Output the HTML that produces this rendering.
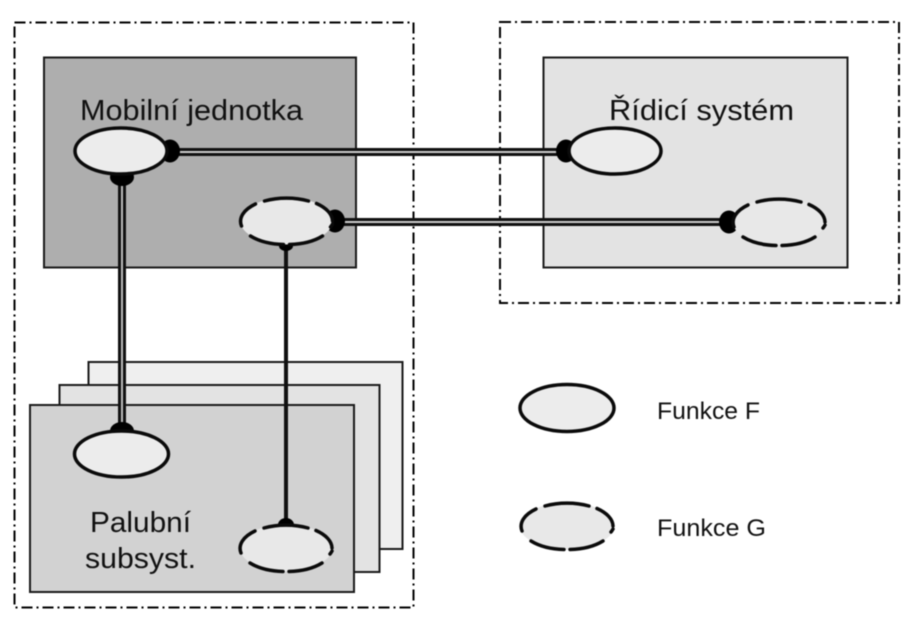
<!DOCTYPE html>
<html>
<head>
<meta charset="utf-8">
<style>
html,body{margin:0;padding:0;background:#fff;width:921px;height:630px;overflow:hidden}
svg{display:block;filter:blur(0.55px)}
text{font-family:"Liberation Sans",sans-serif;fill:#111}
</style>
</head>
<body>
<svg width="921" height="630" viewBox="0 0 921 630" xmlns="http://www.w3.org/2000/svg">
<defs>
<path id="dash" d="M-22-20A46 23.5 0 0 1 22-20M30-17.5A46 23.5 0 0 1 46 0M46 3A46 23.5 0 0 1 44 6M36 15A46 23.5 0 0 1 3 23.5M-3 23.5A46 23.5 0 0 1-36 15M-45 5A46 23.5 0 0 1-31-17"/>
</defs>
<rect width="921" height="630" fill="#fff"/>
<g fill="none" stroke="#000" stroke-width="2" stroke-dasharray="11 4 2 4">
<rect x="14.5" y="22.5" width="399" height="585"/>
<rect x="500" y="22" width="399" height="281"/>
</g>
<g stroke="#1a1a1a" stroke-width="2">
<rect x="44" y="57.5" width="312" height="210" fill="#aeaeae"/>
<rect x="543.5" y="57.5" width="304" height="210" fill="#e3e3e3"/>
<rect x="88.5" y="362" width="314" height="187" fill="#efefef"/>
<rect x="59.5" y="385" width="320" height="187" fill="#e3e3e3"/>
<rect x="30" y="405" width="324" height="187" fill="#d2d2d2"/>
</g>
<!-- connectors -->
<g fill="none">
<path d="M175 152H560M340 222H725" stroke="#111" stroke-width="8"/>
<path d="M175 152H560M340 222H725" stroke="#ccc" stroke-width="2"/>
<path d="M122 178V425" stroke="#111" stroke-width="8"/>
<path d="M122 178V425" stroke="#bbb" stroke-width="2"/>
<path d="M286 245V525" stroke="#111" stroke-width="4"/>
</g>
<!-- sockets -->
<g fill="#000">
<ellipse cx="170" cy="151" rx="10" ry="11.5"/>
<ellipse cx="122" cy="177" rx="12" ry="9"/>
<ellipse cx="122" cy="431" rx="12" ry="9"/>
<ellipse cx="335" cy="221" rx="10" ry="11.5"/>
<ellipse cx="286" cy="246" rx="7" ry="5"/>
<ellipse cx="286" cy="525" rx="8" ry="7"/>
<ellipse cx="566" cy="151" rx="10" ry="11.5"/>
<ellipse cx="729" cy="222" rx="10" ry="11.5"/>
</g>
<!-- solid ellipses -->
<g fill="#ececec" stroke="#0a0a0a" stroke-width="3.5">
<ellipse cx="121" cy="151" rx="46" ry="23"/>
<ellipse cx="615" cy="151" rx="46" ry="23"/>
<ellipse cx="121.5" cy="454" rx="47" ry="23"/>
<ellipse cx="567" cy="408" rx="47" ry="23.5"/>
</g>
<!-- dashed ellipses -->
<g fill="#e8e8e8">
<ellipse cx="286.5" cy="221" rx="46" ry="23.5"/>
<ellipse cx="779" cy="222" rx="46" ry="23.5"/>
<ellipse cx="286" cy="548" rx="46" ry="23.5"/>
<ellipse cx="567" cy="526" rx="47" ry="23.5"/>
</g>
<g fill="none" stroke="#0a0a0a" stroke-width="3.5" stroke-linecap="round">
<use href="#dash" transform="translate(286.5 221)"/>
<use href="#dash" transform="translate(779 222)"/>
<use href="#dash" transform="translate(286 548)"/>
<use href="#dash" transform="translate(567 526)"/>
</g>
<!-- labels -->
<text x="80" y="120" font-size="29" textLength="223" lengthAdjust="spacingAndGlyphs">Mobilní jednotka</text>
<text x="609" y="120" font-size="29" textLength="185" lengthAdjust="spacingAndGlyphs">Řídicí systém</text>
<text x="90" y="532" font-size="29" textLength="101" lengthAdjust="spacingAndGlyphs">Palubní</text>
<text x="85" y="568" font-size="29" textLength="111" lengthAdjust="spacingAndGlyphs">subsyst.</text>
<text x="657" y="419" font-size="24" textLength="103" lengthAdjust="spacingAndGlyphs">Funkce F</text>
<text x="657" y="536" font-size="24" textLength="109" lengthAdjust="spacingAndGlyphs">Funkce G</text>
</svg>
</body>
</html>
